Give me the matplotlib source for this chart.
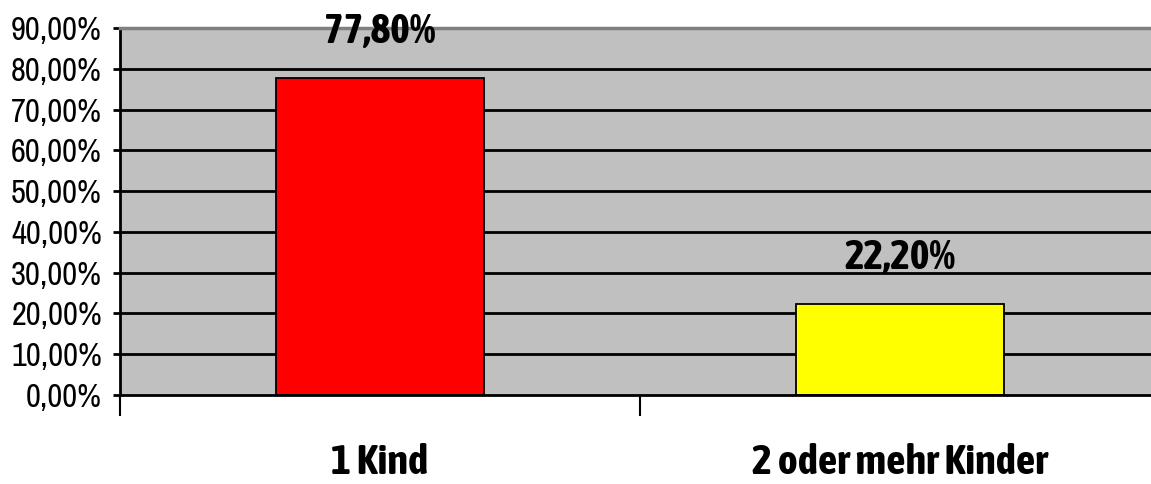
import numpy as np
import matplotlib.pyplot as plt
from matplotlib import font_manager
from matplotlib.font_manager import FontProperties
from matplotlib.ticker import FuncFormatter, FixedLocator

# Data
categories = ["1 Kind", "2 oder mehr Kinder"]
shares = [77.80, 22.20]
bar_colors = ["#FF0000", "#FFFF00"]
yticks = [0, 10, 20, 30, 40, 50, 60, 70, 80, 90]

def as_int(w):
    try:
        return int(w)
    except (TypeError, ValueError):
        return {"normal": 400, "regular": 400, "bold": 700}.get(str(w), 400)

# look for a condensed face (Arial Narrow look-alike), closest to the wanted weight
def pick(target):
    cands = [f for f in font_manager.fontManager.ttflist
             if ("Narrow" in f.name or "Condensed" in f.name) and f.style == "normal"]
    cands.sort(key=lambda f: (0 if "Liberation" in f.name else 1,
                              abs(as_int(f.weight) - target), f.name))
    return cands[0].fname if cands else None

reg_file = pick(400)
bold_file = pick(700)
fp_reg = FontProperties(fname=reg_file) if reg_file else FontProperties(family="Liberation Sans")
fp_bold = (FontProperties(fname=bold_file) if bold_file
           else FontProperties(family="Liberation Sans", weight="bold"))

def fmt_pct(x, pos):
    return f"{x:.2f}%".replace(".", ",")

DPI = 100
fig = plt.figure(figsize=(11.51, 4.84), dpi=DPI)
W, H = 1151, 484
ax = fig.add_axes([120 / W, (H - 395) / H, 1040 / W, 367 / H])
ax.set_facecolor("#C0C0C0")

x = np.arange(len(categories))
ax.bar(x, shares, width=0.40, color=bar_colors, edgecolor="black", linewidth=1.3, zorder=3)

ax.set_xlim(-0.5, 1.5)
ax.set_ylim(0, 90)

# grid
ax.yaxis.set_major_locator(FixedLocator(yticks))
ax.yaxis.set_major_formatter(FuncFormatter(fmt_pct))
for y in yticks[1:-1]:
    ax.axhline(y, color="black", lw=2.0, zorder=2)

for s in ["right", "bottom"]:
    ax.spines[s].set_visible(False)
ax.spines["top"].set_color("#808080")
ax.spines["top"].set_linewidth(2.5)
ax.spines["left"].set_color("black")
ax.spines["left"].set_linewidth(2.0)
ax.axhline(0, color="black", lw=2.0, zorder=4, clip_on=False)

ax.tick_params(axis="y", length=5, width=2, direction="out", pad=8)
for t in ax.get_yticklabels():
    t.set_fontproperties(fp_reg)
    t.set_fontsize(23.5)
ax.set_xticks([-0.5, 0.5, 1.5])
ax.set_xticklabels([])
ax.tick_params(axis="x", length=15, width=1.5, direction="out")

# category labels
for xi, lab in zip(x, categories):
    ax.annotate(lab, (xi, 0), xytext=(0, -68), textcoords="offset pixels",
                ha="center", va="center", fontproperties=fp_bold, fontsize=30.5,
                annotation_clip=False)

# value labels
for xi, v in zip(x, shares):
    ax.annotate(f"{v:.2f}%".replace(".", ","), (xi, v), xytext=(0, 35),
                textcoords="offset pixels", ha="center", va="baseline",
                fontproperties=fp_bold, fontsize=30, annotation_clip=False)

fig.savefig("out.png", dpi=DPI)
